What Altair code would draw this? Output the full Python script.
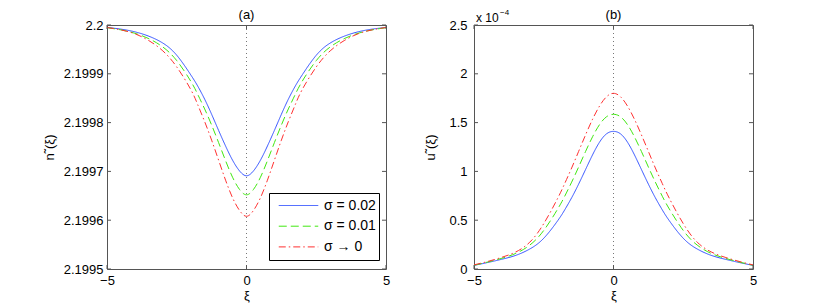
import altair as alt
import pandas as pd

FONT = "Liberation Sans"
FRAME = "#555555"

# ---------------- data ----------------
xi = [-5, -4.5, -4, -3.5, -3, -2.5, -2, -1.75, -1.5, -1.25, -1, -0.75, -0.5, -0.25, 0,
      0.25, 0.5, 0.75, 1, 1.25, 1.5, 1.75, 2, 2.5, 3, 3.5, 4, 4.5, 5]

labels = ["σ = 0.02", "σ = 0.01", "σ → 0"]

# panel (a): n~(xi)
n_s002 = [2.199995, 2.1999915, 2.199986, 2.199977, 2.199963, 2.199938, 2.199898, 2.199875,
          2.199848, 2.199817, 2.199784, 2.199752, 2.199723, 2.199701, 2.199691,
          2.199701, 2.199723, 2.199752, 2.199784, 2.199817, 2.199848, 2.199875,
          2.199898, 2.199938, 2.199963, 2.199977, 2.199986, 2.1999915, 2.199995]
n_s001 = [2.1999945, 2.199990, 2.199983, 2.199972, 2.199955, 2.199927, 2.199885, 2.199858,
          2.199828, 2.199795, 2.199759, 2.199722, 2.199688, 2.199663, 2.199652,
          2.199663, 2.199688, 2.199722, 2.199759, 2.199795, 2.199828, 2.199858,
          2.199885, 2.199927, 2.199955, 2.199972, 2.199983, 2.199990, 2.1999945]
n_s0 = [2.199995, 2.199990, 2.199982, 2.199968, 2.199947, 2.199914, 2.199868, 2.199837,
        2.199802, 2.199764, 2.199723, 2.199682, 2.199646, 2.199620, 2.199608,
        2.199620, 2.199646, 2.199682, 2.199723, 2.199764, 2.199802, 2.199837,
        2.199868, 2.199914, 2.199947, 2.199968, 2.199982, 2.199990, 2.199995]

# panel (b): u~(xi), in units of 1e-4
u_s002 = [0.037, 0.067, 0.10, 0.14, 0.205, 0.315, 0.495, 0.605, 0.73, 0.87, 1.02, 1.17, 1.30, 1.385, 1.41,
          1.385, 1.30, 1.17, 1.02, 0.87, 0.73, 0.605, 0.495, 0.315, 0.205, 0.14, 0.10, 0.067, 0.037]
u_s001 = [0.038, 0.072, 0.11, 0.16, 0.245, 0.395, 0.615, 0.745, 0.89, 1.045, 1.205, 1.355, 1.48, 1.56, 1.585,
          1.56, 1.48, 1.355, 1.205, 1.045, 0.89, 0.745, 0.615, 0.395, 0.245, 0.16, 0.11, 0.072, 0.038]
u_s0 = [0.042, 0.078, 0.12, 0.175, 0.275, 0.465, 0.725, 0.875, 1.035, 1.205, 1.375, 1.535, 1.67, 1.765, 1.80,
        1.765, 1.67, 1.535, 1.375, 1.205, 1.035, 0.875, 0.725, 0.465, 0.275, 0.175, 0.12, 0.078, 0.042]

x_ticks = [-5, 0, 5]
n_ticks = [2.1995, 2.1996, 2.1997, 2.1998, 2.1999, 2.2]
u_ticks = [0, 0.5, 1, 1.5, 2, 2.5]

colors = ["#3050ff", "#40e810", "#ff3030"]
dashes = [[1, 0], [8, 4], [7, 3, 1.5, 3]]

W, H = 279, 244


def long_df(series):
    rows = []
    for lab, ys in zip(labels, series):
        for x, y in zip(xi, ys):
            rows.append({"xi": x, "val": y, "series": lab})
    return pd.DataFrame(rows)


def panel(df, ydom, yticks, yfmt, ytitle, ylpad, ytpad, ttl, lx, ly, extra=()):
    xscale = alt.Scale(domain=[-5, 5], nice=False, zero=False)
    yscale = alt.Scale(domain=ydom, nice=False, zero=False)
    leg = alt.Legend(title=None, orient="none", legendX=lx, legendY=ly,
                     strokeColor="black", fillColor="white", padding=3,
                     symbolType="stroke", symbolSize=1560, symbolStrokeWidth=1,
                     symbolOffset=6, labelOffset=5, labelFont=FONT, labelFontSize=14,
                     labelColor="black", clipHeight=19, rowPadding=1.7,
                     cornerRadius=0, labelLimit=300)
    xaxis = alt.Axis(values=x_ticks, format="d", title="ξ", labelFlush=False,
                     labelOverlap=False, labelPadding=5, titlePadding=2,
                     ticks=False, tickSize=0, domain=False, grid=False,
                     labelFont=FONT, labelFontSize=13, labelColor="black",
                     titleFont=FONT, titleFontSize=13, titleColor="black",
                     titleFontWeight="normal")
    yaxis = alt.Axis(values=yticks, format=yfmt, title=ytitle, labelOverlap=False,
                     labelPadding=ylpad, titlePadding=ytpad,
                     ticks=False, tickSize=0, domain=False, grid=False,
                     labelFont=FONT, labelFontSize=13, labelColor="black",
                     titleFont=FONT, titleFontSize=13, titleColor="black",
                     titleFontWeight="normal")

    center = alt.Chart(pd.DataFrame({"x": [0]})).mark_rule(
        color="#777777", strokeDash=[1, 3], strokeWidth=1).encode(
        x=alt.X("x:Q", scale=xscale, axis=xaxis))

    lines = alt.Chart(df).mark_line(strokeWidth=1, interpolate="natural").encode(
        x=alt.X("xi:Q", scale=xscale, axis=xaxis),
        y=alt.Y("val:Q", scale=yscale, axis=yaxis),
        color=alt.Color("series:N", scale=alt.Scale(domain=labels, range=colors), legend=leg),
        strokeDash=alt.StrokeDash("series:N", scale=alt.Scale(domain=labels, range=dashes), legend=leg),
    )

    yt = pd.DataFrame({"v": yticks})
    xt = pd.DataFrame({"v": x_ticks})
    tick_style = dict(color=FRAME, strokeWidth=1)
    ytl = alt.Chart(yt).mark_rule(**tick_style).encode(
        y=alt.Y("v:Q", scale=yscale, axis=yaxis), x=alt.value(0), x2=alt.value(4))
    ytr = alt.Chart(yt).mark_rule(**tick_style).encode(
        y=alt.Y("v:Q", scale=yscale, axis=yaxis), x=alt.value(W - 4), x2=alt.value(W))
    xtb = alt.Chart(xt).mark_rule(**tick_style).encode(
        x=alt.X("v:Q", scale=xscale, axis=xaxis), y=alt.value(H - 4), y2=alt.value(H))
    xtt = alt.Chart(xt).mark_rule(**tick_style).encode(
        x=alt.X("v:Q", scale=xscale, axis=xaxis), y=alt.value(0), y2=alt.value(4))

    title = alt.Chart(pd.DataFrame({"x": [0], "t": [ttl]})).mark_text(
        align="center", baseline="alphabetic", font=FONT, fontSize=13, color="black").encode(
        x=alt.X("x:Q", scale=xscale, axis=xaxis), y=alt.value(-6.5), text="t:N")

    layers = [center, lines, ytl, ytr, xtb, xtt, title] + list(extra)
    return alt.layer(*layers).properties(width=W, height=H)


exp_base = alt.Chart(pd.DataFrame({"t": ["x 10"]})).mark_text(
    align="left", baseline="alphabetic", font=FONT, fontSize=12, color="black").encode(
    text="t:N", x=alt.value(2), y=alt.value(-3.5))
exp_sup = alt.Chart(pd.DataFrame({"t": ["−4"]})).mark_text(
    align="left", baseline="alphabetic", font=FONT, fontSize=8, color="black").encode(
    text="t:N", x=alt.value(26), y=alt.value(-10.5))

left = panel(long_df([n_s002, n_s001, n_s0]), [2.1995, 2.2], n_ticks, ".4~f",
             "n\u02dc(ξ)", 4, 6.7, "(a)", 162, 168)
right = panel(long_df([u_s002, u_s001, u_s0]), [0, 2.5], u_ticks, ".1~f",
              "u\u02dc(ξ)", 7, 11.7, "(b)", 161, 8, extra=[exp_base, exp_sup])

chart = alt.hconcat(left, right, spacing=32).properties(
    padding={"left": 35, "top": 0, "right": 5, "bottom": 0}
).configure_view(stroke=FRAME, strokeWidth=1)

chart.save("out.html", embed_options={"renderer": "svg", "actions": False})
